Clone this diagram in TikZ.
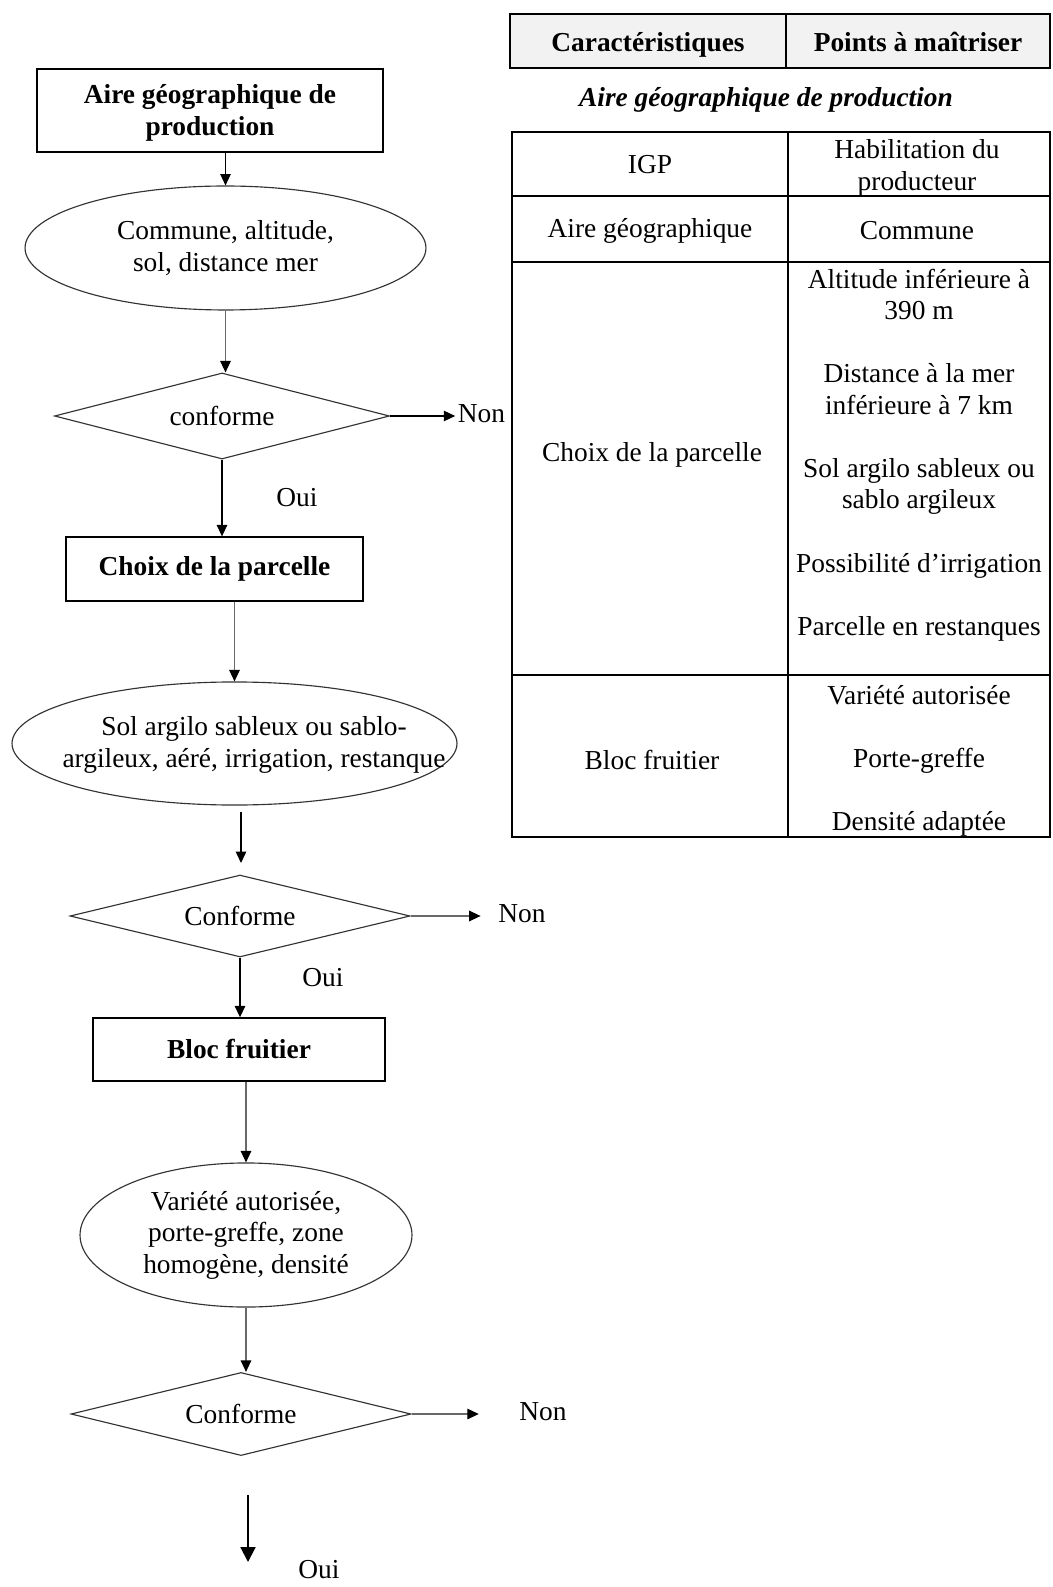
\documentclass[tikz,border=0pt]{standalone}
\usepackage{fontspec}
\setmainfont{Liberation Serif}
\usetikzlibrary{shapes.geometric,arrows.meta}
\definecolor{hdrgray}{RGB}{242,242,242}
\definecolor{linkgray}{RGB}{105,105,105}

\begin{document}
\fontsize{12}{13.8}\selectfont
\begin{tikzpicture}[x=0.438pt,y=-0.438pt,
    box/.style={draw,line width=0.6pt,font=\bfseries,align=center},
    oval/.style={ellipse,draw=black!80,line width=0.5pt,inner sep=1pt,align=center},
    test/.style={diamond,aspect=3.9,draw=black!80,line width=0.5pt,inner sep=1pt},
    one/.style={text height=8.4pt,text depth=2.6pt},
    lbl/.style={one,inner sep=1pt},
    arr/.style={line width=0.5pt,-{Triangle[length=5pt,width=4.6pt]}},
    arrg/.style={draw=linkgray,line width=0.5pt,-{Triangle[length=5pt,width=4.6pt,color=black]}},
    grid/.style={line width=0.7pt},
    cell/.style={align=center,inner sep=0pt}]

\useasboundingbox (0,0) rectangle (1053,1587);

% flowchart
\node[box,minimum width=151.5pt,minimum height=36.4pt] (aire) at (210,110.5) {\rule{0pt}{10.5pt}Aire géographique de\\production};
\node[oval,minimum width=175.6pt,minimum height=54.3pt] (commune) at (225.5,248) {Commune, altitude,\\sol, distance mer};
\node[test,minimum width=146.7pt,minimum height=37.7pt] (conf1) at (222,416) {conforme};
\node[lbl] (non1) at (481.5,416) {Non};
\node[lbl] (oui1) at (297,500) {Oui};
\node[box,minimum width=130.1pt,minimum height=28pt] (parcelle) at (214.5,569) {Choix de la parcelle};
\node[oval,minimum width=194.9pt,minimum height=53.9pt] (sol) at (234.5,743.5) {};
\node[align=center] (soltxt) at (254,745) {Sol argilo sableux ou sablo-\\argileux, aéré, irrigation, restanque};
\coordinate (f1a) at (241,812);
\coordinate (f1b) at (241,863);
\node[test,minimum width=148.9pt,minimum height=35.9pt] (conf2) at (240,916) {Conforme};
\node[lbl] (non2) at (522,916) {Non};
\node[lbl] (oui2) at (323,980) {Oui};
\node[box,minimum width=127.9pt,minimum height=27.6pt] (bloc) at (239,1049.5) {Bloc fruitier};
\node[oval,minimum width=145.4pt,minimum height=63.1pt] (variete) at (246,1235) {Variété autorisée,\\porte-greffe, zone\\homogène, densité};
\node[test,minimum width=148.9pt,minimum height=36.4pt] (conf3) at (241,1414) {Conforme};
\node[lbl] (non3) at (543,1414) {Non};
\coordinate (f2a) at (248,1495);
\coordinate (f2b) at (248,1562);
\node[lbl] (oui3) at (319,1572) {Oui};

\draw[arr] (aire.south -| commune) -- (commune.north);
\draw[arrg] (commune.south) -- (commune.south |- conf1.north);
\draw[arr] (conf1.east) -- (non1.west);
\draw[arr] (conf1.south) -- (conf1.south |- parcelle.north);
\draw[arrg] (parcelle.south -| sol) -- (sol.north);
\draw[arr] (f1a) -- (f1b);
\draw[arrg,shorten >=6.6pt] (conf2.east) -- (non2.west);
\draw[arr] (conf2.south) -- (conf2.south |- bloc.north);
\draw[arrg] (bloc.south -| variete) -- (variete.north);
\draw[arrg] (variete.south) -- (variete.south |- conf3.north);
\draw[arrg,shorten >=16.6pt] (conf3.east) -- (non3.west);
\draw[line width=0.9pt,-{Triangle[length=6.5pt,width=6.5pt]}] (f2a) -- (f2b);

% table header
\draw[grid,fill=hdrgray] (510,14) rectangle (1050,68);
\draw[grid] (786,14) -- (786,68);
\node[one,font=\bfseries] (carac) at (648,44.5) {Caractéristiques};
\node[one,font=\bfseries] (points) at (918,44.5) {Points à maîtriser};
\node[one,font=\bfseries\itshape] (titre) at (766,100) {Aire géographique de production};

% table body
\draw[grid] (512,132) rectangle (1050,837);
\draw[grid] (788,132) -- (788,837);
\foreach \y in {196,262,675}
    \draw[grid] (512,\y) -- (1050,\y);

\node[cell] (igp) at (650,165) {IGP};
\node[cell] (habil) at (917,168) {Habilitation du\\producteur};
\node[cell] (airecell) at (650,231) {Aire géographique};
\node[cell] (communecell) at (917,231) {Commune};
\node[cell] (choix) at (652,455) {Choix de la parcelle};
\node[cell] (choixpts) at (919,455) {Altitude inférieure à\\390 m\\[13.8pt]Distance à la mer\\inférieure à 7 km\\[13.8pt]Sol argilo sableux ou\\sablo argileux\\[13.8pt]Possibilité d’irrigation\\[13.8pt]Parcelle en restanques};
\node[cell] (bloccell) at (652,760) {Bloc fruitier};
\node[cell] (blocpts) at (919,761) {Variété autorisée\\[13.8pt]Porte-greffe\\[13.8pt]Densité adaptée};
\end{tikzpicture}
\end{document}
